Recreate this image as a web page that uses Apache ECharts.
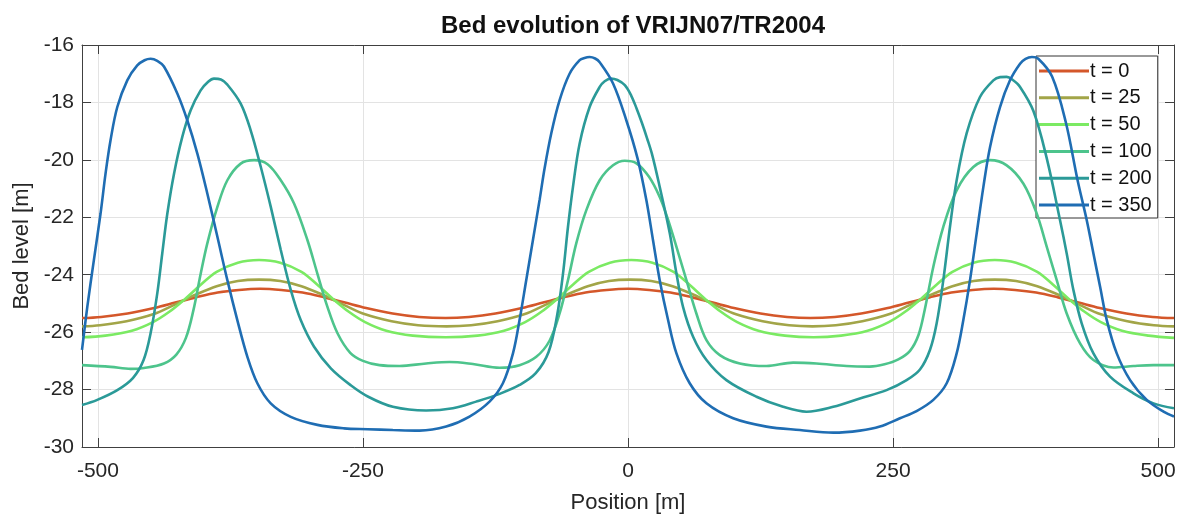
<!DOCTYPE html>
<html>
<head>
<meta charset="utf-8">
<script src="https://cdn.jsdelivr.net/npm/echarts@6/dist/echarts.min.js"></script>
<style>
html,body{margin:0;padding:0;background:#fff;}
#chart{width:1182px;height:519px;}
</style>
</head>
<body>
<div id="chart"></div>
<script>
// ---- data (x = position [m], y = bed level [m]) ----
const seriesNames = ['t = 0', 't = 25', 't = 50', 't = 100', 't = 200', 't = 350'];
const xTicks = [-500, -250, 0, 250, 500];

const t0 = [[-515,-25.51],[-497,-25.47],[-472,-25.35],[-447,-25.16],[-427,-24.97],[-407,-24.78],[-387,-24.62],[-367,-24.53],[-347,-24.49],[-327,-24.53],[-307,-24.62],[-287,-24.78],[-267,-24.97],[-247,-25.16],[-222,-25.35],[-197,-25.47],[-172,-25.51],[-150,-25.47],[-125,-25.35],[-100,-25.16],[-80,-24.97],[-60,-24.78],[-40,-24.62],[-20,-24.53],[0,-24.49],[20,-24.53],[40,-24.62],[60,-24.78],[80,-24.97],[100,-25.16],[125,-25.35],[150,-25.47],[172,-25.51],[195,-25.47],[220,-25.35],[245,-25.16],[265,-24.97],[285,-24.78],[305,-24.62],[325,-24.53],[345,-24.49],[365,-24.53],[385,-24.62],[405,-24.78],[425,-24.97],[445,-25.16],[470,-25.35],[495,-25.47],[515,-25.51]];

const t25 = [[-515,-25.8],[-498,-25.76],[-473,-25.62],[-448,-25.38],[-428,-25.05],[-408,-24.7],[-388,-24.4],[-368,-24.22],[-348,-24.17],[-328,-24.22],[-308,-24.4],[-288,-24.7],[-268,-25.05],[-248,-25.38],[-223,-25.62],[-198,-25.76],[-171,-25.8],[-148,-25.76],[-123,-25.62],[-98,-25.38],[-78,-25.05],[-58,-24.7],[-38,-24.4],[-18,-24.22],[2,-24.17],[22,-24.22],[42,-24.4],[62,-24.7],[82,-25.05],[102,-25.38],[127,-25.62],[152,-25.76],[174,-25.8],[196,-25.76],[221,-25.62],[246,-25.38],[266,-25.05],[286,-24.7],[306,-24.4],[326,-24.22],[346,-24.17],[366,-24.22],[386,-24.4],[406,-24.7],[426,-25.05],[446,-25.38],[471,-25.62],[496,-25.76],[515,-25.8]];

const t50 = [[-515,-26.18],[-493,-26.12],[-468,-25.95],[-448,-25.65],[-433,-25.3],[-418,-24.85],[-403,-24.35],[-388,-23.9],[-368,-23.58],[-348,-23.49],[-328,-23.58],[-308,-23.9],[-293,-24.35],[-278,-24.85],[-263,-25.3],[-248,-25.65],[-228,-25.95],[-203,-26.12],[-172,-26.18],[-142,-26.12],[-117,-25.95],[-97,-25.65],[-82,-25.3],[-67,-24.85],[-52,-24.35],[-37,-23.9],[-17,-23.58],[3,-23.49],[23,-23.58],[43,-23.9],[58,-24.35],[73,-24.85],[88,-25.3],[103,-25.65],[123,-25.95],[148,-26.12],[175,-26.18],[201,-26.12],[226,-25.95],[246,-25.65],[261,-25.3],[276,-24.85],[291,-24.35],[306,-23.9],[326,-23.58],[346,-23.49],[366,-23.58],[386,-23.9],[401,-24.35],[416,-24.85],[431,-25.3],[446,-25.65],[466,-25.95],[491,-26.12],[515,-26.2]];

const t100 = [[-515,-27.15],[-488,-27.21],[-469,-27.28],[-456.6,-27.25],[-437.7,-27.09],[-426,-26.78],[-417,-26.2],[-410,-25.25],[-403,-23.96],[-396.8,-22.91],[-387.3,-21.64],[-377.9,-20.71],[-365.3,-20.13],[-352.7,-20.01],[-340,-20.15],[-327.5,-20.71],[-315,-21.52],[-302.4,-22.79],[-293,-23.96],[-283.5,-25.12],[-274,-26.04],[-262,-26.72],[-250,-27.0],[-234.4,-27.15],[-215.5,-27.18],[-190.4,-27.09],[-168.3,-27.04],[-146.3,-27.11],[-121.1,-27.24],[-102.3,-27.15],[-86.5,-26.86],[-74,-26.3],[-64.5,-25.35],[-56.6,-24.19],[-48.8,-22.91],[-39.3,-21.75],[-26.7,-20.71],[-14.1,-20.19],[-3.1,-20.03],[8,-20.12],[20,-20.6],[30,-21.3],[37,-22.0],[45.7,-23.03],[55.1,-24.19],[64.5,-25.35],[74,-26.28],[86.6,-26.8],[105.4,-27.09],[130.6,-27.18],[155.8,-27.06],[177.8,-27.09],[206.1,-27.18],[228,-27.2],[242,-27.12],[255,-26.95],[266,-26.65],[274,-26.1],[280,-25.2],[288,-23.72],[297.4,-22.33],[310,-21.06],[325.7,-20.25],[341.5,-20.01],[357.2,-20.19],[373,-20.83],[385.5,-21.87],[395,-23.03],[404.4,-24.19],[413.8,-25.35],[426.4,-26.39],[439,-26.97],[457.9,-27.23],[476.8,-27.18],[495.7,-27.15],[515,-27.15]];

const t200 = [[-515,-28.54],[-500.6,-28.36],[-481.7,-28.02],[-467,-27.6],[-457,-26.98],[-450.3,-26.04],[-444,-24.65],[-439.3,-23.26],[-434.5,-21.87],[-428.2,-20.48],[-420.4,-19.2],[-412.5,-18.27],[-403.1,-17.58],[-396,-17.28],[-390.5,-17.17],[-384,-17.2],[-377.9,-17.38],[-365.3,-18.04],[-355.9,-18.97],[-346.4,-20.24],[-337,-21.63],[-327.5,-23.14],[-318.1,-24.53],[-308.7,-25.58],[-296.1,-26.51],[-280.3,-27.26],[-261.5,-27.85],[-245,-28.25],[-221.8,-28.6],[-190.4,-28.73],[-165.2,-28.65],[-143.2,-28.42],[-121.1,-28.15],[-102.3,-27.84],[-87,-27.43],[-75,-26.7],[-67,-25.45],[-61.3,-23.96],[-56.6,-22.33],[-51.9,-20.94],[-45.6,-19.43],[-36.2,-18.16],[-26.7,-17.46],[-22,-17.26],[-16,-17.17],[-10,-17.22],[-3,-17.4],[3,-17.76],[8,-18.2],[13,-18.7],[18,-19.25],[23,-19.85],[29.9,-20.94],[39.4,-22.56],[45.7,-23.96],[51.9,-25.12],[61.4,-26.16],[74,-26.97],[92.8,-27.67],[121.2,-28.25],[146.3,-28.6],[168.4,-28.77],[193.6,-28.6],[218.7,-28.31],[243.9,-28.02],[262.8,-27.67],[275.4,-27.3],[284.8,-26.62],[291.1,-25.7],[297.4,-24.19],[303.7,-22.33],[310,-20.71],[319.4,-19.08],[332,-17.81],[344.6,-17.23],[351,-17.12],[357.2,-17.11],[363,-17.22],[369.8,-17.46],[382.4,-18.3],[395,-19.95],[407.5,-22.1],[413.8,-23.26],[420.1,-24.53],[428,-25.7],[439,-26.74],[454.7,-27.55],[476.8,-28.13],[495.7,-28.48],[515,-28.65]];

const t350 = [[-515,-26.62],[-510,-25.12],[-503.8,-23.49],[-497.5,-21.87],[-492.8,-20.48],[-488,-19.3],[-481.7,-18.16],[-472.3,-17.23],[-462.9,-16.71],[-456,-16.53],[-450.3,-16.48],[-444,-16.55],[-437.7,-16.75],[-425.1,-17.69],[-415.7,-18.62],[-406.2,-19.78],[-396.8,-21.17],[-387.3,-22.68],[-377.9,-24.19],[-368.5,-25.58],[-359,-26.86],[-349.6,-27.78],[-337,-28.48],[-318.1,-28.95],[-293,-29.23],[-267.8,-29.35],[-245.7,-29.38],[-221.8,-29.41],[-196.7,-29.43],[-171.5,-29.29],[-149.5,-28.94],[-130.6,-28.42],[-118,-27.78],[-108.5,-26.74],[-102.3,-25.58],[-96,-24.19],[-89.7,-22.8],[-83.4,-21.4],[-78.7,-20.3],[-72.4,-19.08],[-64.5,-17.92],[-55.1,-17.0],[-45.6,-16.53],[-41,-16.45],[-36.2,-16.42],[-31,-16.47],[-26.7,-16.6],[-14.1,-17.34],[-1.6,-18.62],[9,-19.95],[17.3,-21.4],[23.6,-22.8],[29.9,-24.19],[37.8,-25.58],[45.7,-26.74],[58.2,-27.78],[74,-28.48],[99.2,-29.0],[130.6,-29.29],[162.1,-29.41],[193.6,-29.5],[218.7,-29.43],[237.6,-29.29],[256.5,-29.0],[272.2,-28.75],[288,-28.36],[300.6,-27.78],[310,-26.74],[316.3,-25.58],[322.6,-24.19],[328.9,-22.56],[335.2,-20.94],[341.5,-19.55],[350.9,-18.16],[360.3,-17.23],[369.8,-16.65],[375,-16.48],[381,-16.42],[387,-16.48],[400,-17.1],[413,-18.7],[424,-20.7],[432.7,-22.1],[439,-23.26],[445.3,-24.42],[451.6,-25.58],[461,-26.74],[473.6,-27.67],[489.3,-28.36],[505.1,-28.77],[515,-28.94]];

const allSeries = [t0, t25, t50, t100, t200, t350];
const colors = ['#d4572a', '#a2a548', '#7bea63', '#4dc48c', '#2b9a98', '#1f6db3'];

// ---- chart ----
const chart = echarts.init(document.getElementById('chart'), null, {renderer: 'canvas'});
const FONT = '"Liberation Sans", Arial, Helvetica, sans-serif';
const axisCol = '#404040';
const textCol = '#262626';

const xMin = -515, xMax = 515;

const option = {
  animation: false,
  backgroundColor: '#ffffff',
  title: {
    text: 'Bed evolution of VRIJN07/TR2004',
    left: 628, textAlign: 'center', top: 9,
    textStyle: {fontFamily: FONT, fontSize: 24, fontWeight: 'bold', color: '#111'}
  },
  grid: {left: 82, right: 8, top: 45, bottom: 72, containLabel: false, outerBoundsMode: 'none'},
  legend: {
    orient: 'vertical', left: 1036, top: 56,
    backgroundColor: '#ffffff', borderColor: '#333', borderWidth: 1,
    padding: [5, 6, 3, 3],
    itemWidth: 50, itemHeight: 14, itemGap: 6.8,
    textStyle: {fontFamily: FONT, fontSize: 20, color: '#111', lineHeight: 20, padding: [0, 0, 0, -4]},
    data: seriesNames.map((n, i) => ({name: n, icon: 'path://M0,0 L50,0 L50,3 L0,3 Z'}))
  },
  xAxis: [{
    type: 'value', min: xMin, max: xMax,
    name: 'Position [m]', nameLocation: 'middle', nameGap: 45,
    nameTextStyle: {fontFamily: FONT, fontSize: 22, color: textCol},
    axisLine: {show: true, onZero: false, lineStyle: {color: axisCol, width: 1}},
    axisTick: {show: true, inside: true, length: 9, customValues: xTicks, lineStyle: {color: axisCol}},
    axisLabel: {customValues: xTicks, fontFamily: FONT, fontSize: 21, color: textCol, margin: 14},
    splitLine: {show: true, lineStyle: {color: '#e3e3e3', width: 1}}
  }, {
    type: 'value', min: xMin, max: xMax, position: 'top',
    axisLine: {show: true, onZero: false, lineStyle: {color: axisCol, width: 1}},
    axisTick: {show: true, inside: true, length: 9, customValues: xTicks, lineStyle: {color: axisCol}},
    axisLabel: {show: false}, splitLine: {show: false}
  }],
  yAxis: [{
    type: 'value', min: -30, max: -16, interval: 2,
    name: 'Bed level [m]', nameLocation: 'middle', nameGap: 49,
    nameTextStyle: {fontFamily: FONT, fontSize: 22, color: textCol},
    axisLine: {show: true, onZero: false, lineStyle: {color: axisCol, width: 1}},
    axisTick: {show: true, inside: true, length: 9, lineStyle: {color: axisCol}},
    axisLabel: {fontFamily: FONT, fontSize: 21, color: textCol, margin: 8},
    splitLine: {show: true, lineStyle: {color: '#e3e3e3', width: 1}}
  }, {
    type: 'value', min: -30, max: -16, interval: 2, position: 'right',
    axisLine: {show: true, onZero: false, lineStyle: {color: axisCol, width: 1}},
    axisTick: {show: true, inside: true, length: 9, lineStyle: {color: axisCol}},
    axisLabel: {show: false}, splitLine: {show: false}
  }],
  series: allSeries.map((d, i) => ({
    name: seriesNames[i], type: 'line', data: d,
    xAxisIndex: 0, yAxisIndex: 0,
    showSymbol: false, symbol: 'none', smooth: 0.35,
    lineStyle: {color: colors[i], width: 2.6},
    itemStyle: {color: colors[i]},
    clip: true, z: 2 + i
  }))
};
chart.setOption(option);
</script>
</body>
</html>
